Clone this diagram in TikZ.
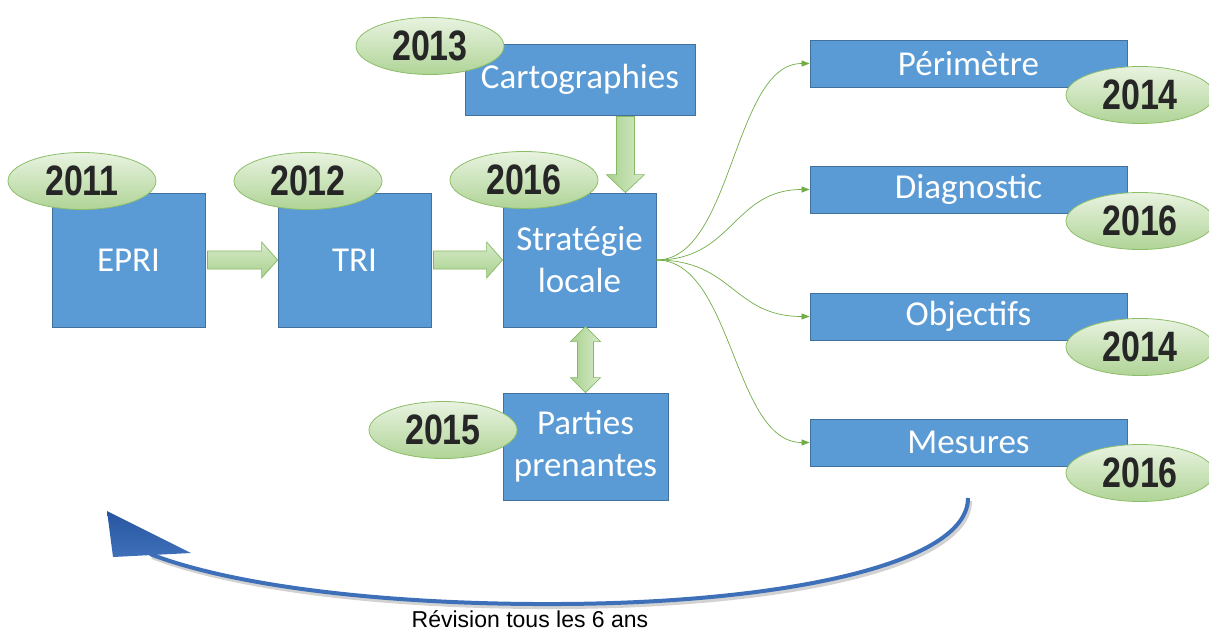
\documentclass[tikz,border=0pt]{standalone}
\usepackage{fontspec}
\setmainfont{Carlito}
\newfontfamily\yearfont{Liberation Sans}
\usetikzlibrary{shapes.geometric,arrows.meta,calc}
\definecolor{boxblue}{RGB}{91,155,213}
\definecolor{boxedge}{RGB}{65,113,156}
\definecolor{elltop}{RGB}{232,243,224}
\definecolor{ellbot}{RGB}{176,212,150}
\definecolor{elledge}{RGB}{140,190,105}
\definecolor{conngreen}{RGB}{112,173,71}
\definecolor{arrlight}{RGB}{214,234,200}
\definecolor{arrmid}{RGB}{169,209,142}
\definecolor{yeartext}{RGB}{38,38,38}
\definecolor{arrblue}{RGB}{62,112,185}
\definecolor{arrdark}{RGB}{40,85,160}
\newcommand{\yeartxt}[1]{\scalebox{1}[1.25]{#1}}
\begin{document}
\begin{tikzpicture}[x=1pt,y=-1pt,
  box/.style={draw=boxedge, line width=0.8pt, fill=boxblue, text=white,
    font=\fontsize{35}{42}\selectfont, align=center, inner sep=0pt},
  year/.style={ellipse, draw=elledge, line width=0.8pt, top color=elltop,
    bottom color=ellbot, minimum width=148pt, minimum height=57pt, inner sep=0pt,
    text=yeartext, font=\yearfont\bfseries\fontsize{34}{34}\selectfont},
  blockh/.style={draw=conngreen!85, line width=0.7pt, top color=arrlight, bottom color=arrmid},
  blockv/.style={draw=conngreen!85, line width=0.7pt, left color=arrmid, right color=arrlight},
  conn/.style={draw=conngreen, line width=0.7pt, -{Triangle[length=8pt,width=6pt]}}]
\useasboundingbox (0,0) rectangle (1209,634);

% boxes
\node[box, minimum width=153pt, minimum height=134pt] (epri) at (128.5,260) {EPRI};
\node[box, minimum width=153pt, minimum height=134pt] (tri) at (354.5,260) {TRI};
\node[box, minimum width=153pt, minimum height=134pt] (strat) at (579.5,260) {Stratégie\\locale};
\node[box, minimum width=230pt, minimum height=71pt] (carto) at (580,79.5) {Cartographies};
\node[box, minimum width=165pt, minimum height=107pt] (parties) at (585.5,446.5) {Parties\\prenantes};
\node[box, minimum width=317pt, minimum height=47pt] (peri) at (968.5,63.5) {Périmètre};
\node[box, minimum width=317pt, minimum height=47pt] (diag) at (968.5,189.5) {Diagnostic};
\node[box, minimum width=317pt, minimum height=47pt] (obj) at (968.5,316.5) {Objectifs};
\node[box, minimum width=317pt, minimum height=47pt] (mes) at (968.5,442.5) {Mesures};

% year ellipses
\node[year] (y2011) at (82,181) {\yeartxt{2011}};
\node[year] (y2012) at (308,181) {\yeartxt{2012}};
\node[year] (y2016s) at (524,180) {\yeartxt{2016}};
\node[year] (y2013) at (430,46) {\yeartxt{2013}};
\node[year] (y2015) at (443,430) {\yeartxt{2015}};
\node[year] (y2014a) at (1140,95) {\yeartxt{2014}};
\node[year] (y2016a) at (1140,221) {\yeartxt{2016}};
\node[year] (y2014b) at (1140,347) {\yeartxt{2014}};
\node[year] (y2016b) at (1140,473) {\yeartxt{2016}};

% horizontal block arrows
\shade[blockh] ($(epri.east)+(2,-9)$) -- ($(tri.west)+(-16,-9)$) -- ($(tri.west)+(-16,-18)$)
  -- (tri.west) -- ($(tri.west)+(-16,18)$) -- ($(tri.west)+(-16,9)$) -- ($(epri.east)+(2,9)$) -- cycle;
\shade[blockh] ($(tri.east)+(2,-9)$) -- ($(strat.west)+(-16,-9)$) -- ($(strat.west)+(-16,-18)$)
  -- (strat.west) -- ($(strat.west)+(-16,18)$) -- ($(strat.west)+(-16,9)$) -- ($(tri.east)+(2,9)$) -- cycle;

% vertical arrow cartographies -> strategie
\coordinate (cv1) at ($(carto.south east)+(-70,1)$);
\coordinate (cv2) at ($(strat.north east)+(-31,0)$);
\shade[blockv] ($(cv1)+(-9,0)$) -- ($(cv2)+(-9,-18)$) -- ($(cv2)+(-19,-18)$) -- (cv2)
  -- ($(cv2)+(19,-18)$) -- ($(cv2)+(9,-18)$) -- ($(cv1)+(9,0)$) -- cycle;

% double arrow strategie <-> parties
\coordinate (dv1) at ($(parties.north)+(0,-66)$);
\coordinate (dv2) at (parties.north);
\shade[blockv] (dv1) -- ($(dv1)+(15,15)$) -- ($(dv1)+(8,15)$) -- ($(dv2)+(8,-15)$) -- ($(dv2)+(15,-15)$)
  -- (dv2) -- ($(dv2)+(-15,-15)$) -- ($(dv2)+(-8,-15)$) -- ($(dv1)+(-8,15)$) -- ($(dv1)+(-15,15)$) -- cycle;

% curved connectors
\path (strat.east) -- (peri.west) coordinate[pos=0.5] (mid);
\draw[conn] (strat.east) .. controls (mid |- strat.east) and (mid |- peri.west) .. (peri.west);
\draw[conn] (strat.east) .. controls (mid |- strat.east) and (mid |- diag.west) .. (diag.west);
\draw[conn] (strat.east) .. controls (mid |- strat.east) and (mid |- obj.west) .. (obj.west);
\draw[conn] (strat.east) .. controls (mid |- strat.east) and (mid |- mes.west) .. (mes.west);

% revision arrow
\coordinate (rs) at (968,498);
\coordinate (re) at (150,554);
\draw[gray!35, line width=4pt] ($(rs)+(2,3)$) .. controls (970,568) and (782,606) .. (562,607)
  .. controls (382,608) and (232,588) .. ($(re)+(2,3)$);
\draw[arrblue, line width=4pt] (rs) .. controls (968,565) and (780,603) .. (560,604)
  .. controls (380,605) and (230,585) .. (re);
\shade[top color=arrdark, bottom color=arrblue] (107,511) -- (191,553) -- (113,557) -- cycle;

\node[font=\yearfont\fontsize{23}{23}\selectfont, text=black] (rev) at (530,619) {Révision tous les 6 ans};
\end{tikzpicture}
\end{document}
